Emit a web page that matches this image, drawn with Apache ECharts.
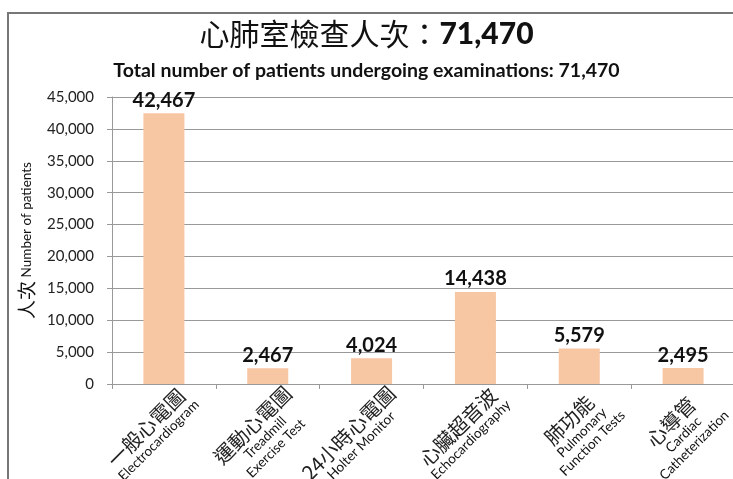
<!DOCTYPE html>
<html lang="zh-Hant">
<head>
    <meta charset="utf-8">
    <title>心肺室檢查人次</title>
    <script src="https://cdn.jsdelivr.net/npm/echarts@6/dist/echarts.min.js"></script>
    <style>
        html, body { margin: 0; padding: 0; background: #fff; }
        #chart { width: 733px; height: 479px; }
    </style>
</head>
<body>
    <div id="chart"></div>
    <script>
        // categories: chinese name + english lines
        var catZh = ['一般心電圖', '運動心電圖', '24小時心電圖', '心臟超音波', '肺功能', '心導管'];
        var catEn = [
            ['Electrocardiogram'],
            ['Treadmill', 'Exercise Test'],
            ['Holter Monitor'],
            ['Echocardiography'],
            ['Pulmonary', 'Function Tests'],
            ['Cardiac', 'Catheterization']
        ];
        var patients = [42467, 2467, 4024, 14438, 5579, 2495];
        var totalPatients = 71470;

        var yTicks = { min: 0, max: 45000, interval: 5000 };

        function fmt(n) {
            return n.toLocaleString('en-US');
        }

        var catLabels = catZh.map(function (zh, i) {
            var s = '{zh|' + zh + '}';
            catEn[i].forEach(function (en) { s += '\n{en|' + en + '}'; });
            return s;
        });

        var myChart = echarts.init(document.getElementById('chart'));

        var option = {
            backgroundColor: '#ffffff',
            animation: false,
            title: [{
                text: '{zh|心肺室檢查人次：}{num|' + fmt(totalPatients) + '}',
                left: 'center',
                top: 14,
                textStyle: {
                    rich: {
                        zh: { fontFamily: 'Noto Sans CJK TC', fontSize: 30, fontWeight: 'normal', color: '#111' },
                        num: { fontFamily: 'Lato', fontSize: 30, fontWeight: 900, color: '#111' }
                    }
                }
            }, {
                text: 'Total number of patients undergoing examinations: ' + fmt(totalPatients),
                left: 'center',
                top: 56,
                textStyle: { fontFamily: 'Lato', fontSize: 19.5, fontWeight: 'bold', color: '#111' }
            }],
            graphic: [{
                type: 'rect',
                z: -1,
                shape: { x: 8, y: 13, width: 800, height: 600 },
                style: { fill: 'none', stroke: '#777', lineWidth: 2 }
            }],
            grid: { left: 112, right: -2, top: 97, bottom: 95, containLabel: false, outerBoundsMode: 'none' },
            xAxis: {
                type: 'category',
                data: catLabels,
                axisLine: { lineStyle: { color: '#999' } },
                axisTick: { show: true, length: 5, lineStyle: { color: '#999' } },
                axisLabel: {
                    interval: 0,
                    rotate: 45,
                    margin: 11,
                    verticalAlign: 'top',
                    padding: [0, -18, 0, 0],
                    rich: {
                        zh: { fontFamily: 'Noto Sans CJK TC', fontSize: 20, color: '#222', align: 'center', lineHeight: 21 },
                        en: { fontFamily: 'Lato', fontSize: 13.5, color: '#111', align: 'center', lineHeight: 15 }
                    }
                }
            },
            yAxis: {
                type: 'value',
                min: yTicks.min,
                max: yTicks.max,
                interval: yTicks.interval,
                name: '{zh|人次}{en| Number of patients}',
                nameLocation: 'middle',
                nameRotate: 90,
                nameGap: 74,
                nameTextStyle: {
                    rich: {
                        zh: { fontFamily: 'Noto Sans CJK TC', fontSize: 19, color: '#111' },
                        en: { fontFamily: 'Lato', fontSize: 13.5, color: '#111' }
                    }
                },
                axisLine: { show: true, lineStyle: { color: '#999' } },
                axisTick: { show: true, length: 5, lineStyle: { color: '#999' } },
                axisLabel: {
                    margin: 18,
                    fontFamily: 'Lato',
                    fontSize: 15,
                    color: '#222',
                    formatter: function (v) { return fmt(v); }
                },
                splitLine: { lineStyle: { color: '#999', width: 1 } }
            },
            series: [{
                type: 'bar',
                data: patients,
                barWidth: 41,
                itemStyle: { color: '#F7C6A3' },
                label: {
                    show: true,
                    position: 'top',
                    distance: 3,
                    fontFamily: 'Lato',
                    fontSize: 20,
                    fontWeight: 'bold',
                    color: '#111',
                    formatter: function (p) { return fmt(p.value); }
                }
            }]
        };

        myChart.setOption(option);
    </script>
</body>
</html>
